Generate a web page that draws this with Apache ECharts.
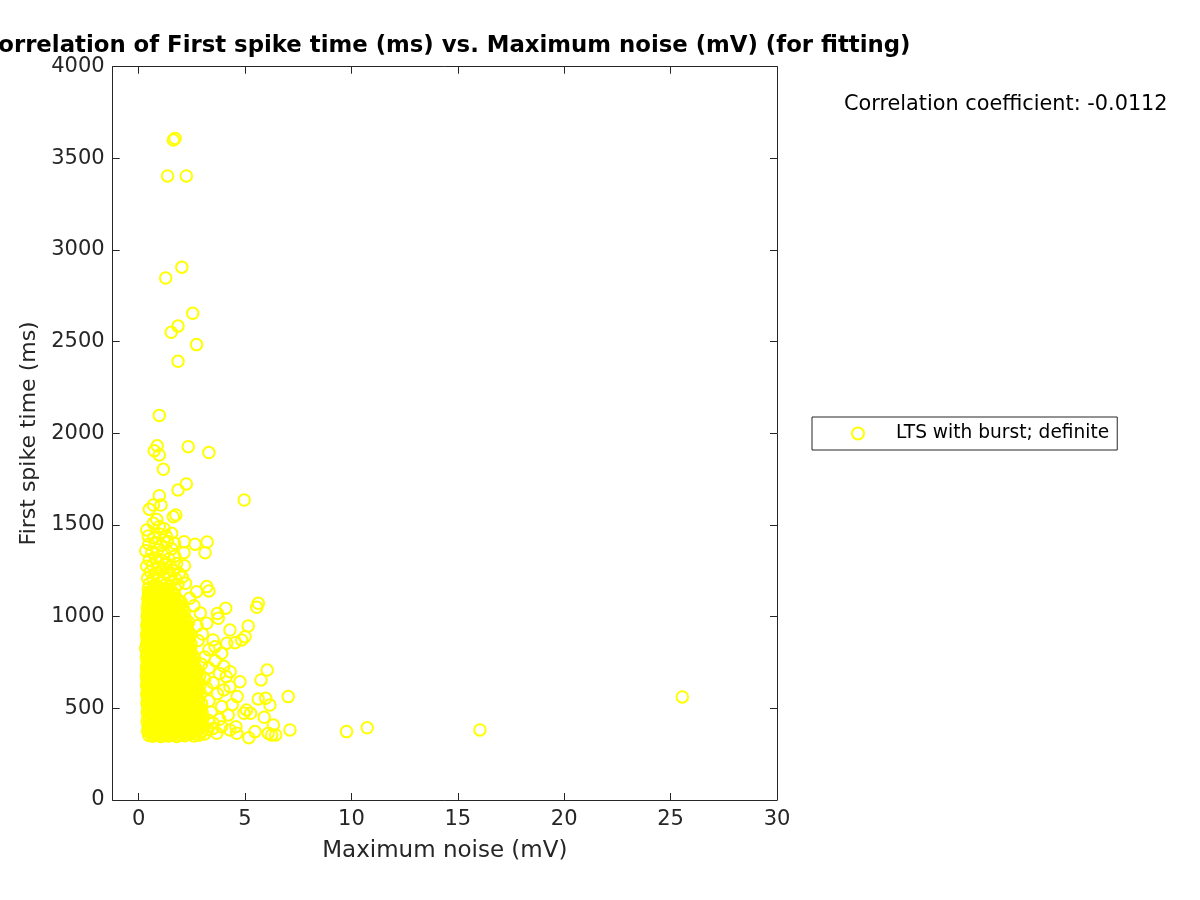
<!DOCTYPE html>
<html>
<head>
<meta charset="utf-8">
<script src="https://cdn.jsdelivr.net/npm/echarts@6/dist/echarts.min.js"></script>
<style>html,body{margin:0;padding:0;background:#fff}#c{width:1200px;height:900px}</style>
</head>
<body>
<div id="c"></div>
<script>
// ---- data: [Maximum noise (mV), First spike time (ms)] ----
const xTicks = [0, 5, 10, 15, 20, 25, 30];
const yTicks = [0, 500, 1000, 1500, 2000, 2500, 3000, 3500, 4000];
const seriesName = 'LTS with burst; definite';
const corrText = 'Correlation coefficient: -0.0112';

const outliers = [[1.71,3609],[1.63,3600],[1.36,3404],[2.24,3404],[2.03,2906],[1.27,2847],[2.54,2655],
  [1.85,2585],[1.53,2551],[2.72,2484],[1.85,2393],[0.97,2098],[0.87,1932],[0.73,1905],[0.97,1882],
  [2.33,1927],[3.30,1895],[1.16,1804],[2.24,1724],[1.85,1691],[4.96,1636],
  [9.77,373],[10.74,394],[16.04,382],[25.55,562]];

const upperCloud = [[0.5,1180],[0.75,1172],[1.0,1185],[1.3,1178],[1.55,1190],[1.85,1175],[2.2,1182],
  [0.42,1210],[0.68,1205],[0.92,1220],[1.18,1212],[1.45,1225],[1.72,1208],[2.05,1215],
  [0.55,1245],[0.82,1238],[1.08,1255],[1.35,1242],[1.62,1250],[1.9,1235],
  [0.38,1275],[0.65,1280],[0.95,1270],[1.25,1285],[1.52,1272],[1.78,1290],[2.15,1278],
  [0.5,1310],[0.8,1320],[1.1,1305],[1.42,1315],[1.7,1330],
  [0.33,1360],[0.62,1352],[0.9,1365],[1.2,1348],[1.55,1370],[2.13,1349],[3.12,1349],
  [0.48,1395],[0.78,1405],[1.05,1390],[1.35,1410],[1.68,1400],[2.14,1409],[2.65,1395],[3.22,1407],
  [0.45,1440],[0.72,1430],[1.0,1450],[1.3,1438],[1.55,1455],
  [0.38,1473],[0.69,1509],[0.97,1491],[1.2,1480],[0.85,1530],[1.63,1545],[1.75,1555],
  [0.5,1586],[0.69,1609],[1.05,1609],[0.97,1660]];

const core350 = [
  [0.48,352],[0.66,348],[0.85,355],[1.04,346],[1.22,351],[1.41,349],[1.6,356],[1.79,347],[1.98,353],[2.17,350],[2.38,357],[2.6,349],[2.83,354],[3.1,360],
  [0.42,377],[0.6,372],[0.79,380],[0.97,374],[1.16,378],[1.35,371],[1.54,381],[1.73,375],[1.92,379],[2.12,372],[2.31,383],[2.52,376],[2.74,380],[2.96,373],[3.25,385],
  [0.45,402],[0.63,398],[0.82,405],[1.01,397],[1.2,403],[1.39,400],[1.58,407],[1.77,396],[1.96,404],[2.15,399],[2.36,406],[2.57,401],[2.8,397],[3.05,404],
  [0.4,427],[0.59,423],[0.77,430],[0.96,421],[1.15,428],[1.33,425],[1.52,431],[1.71,422],[1.9,429],[2.1,424],[2.3,432],[2.51,426],[2.72,421],[2.95,429],[3.3,433],
  [0.44,452],[0.62,447],[0.81,455],[1.0,449],[1.19,454],[1.37,446],[1.56,453],[1.75,450],[1.94,457],[2.13,448],[2.33,455],[2.55,451],[2.78,446],[3.02,454],
  [0.41,477],[0.6,473],[0.78,480],[0.97,471],[1.16,478],[1.34,474],[1.53,481],[1.72,472],[1.91,479],[2.11,476],[2.31,470],[2.52,478],[2.74,474],[2.98,480],
  [0.43,502],[0.61,498],[0.8,505],[0.99,496],[1.18,503],[1.36,499],[1.55,506],[1.74,497],[1.93,504],[2.13,500],[2.34,507],[2.56,498],[2.8,503],
  [0.39,527],[0.58,522],[0.76,529],[0.95,521],[1.14,528],[1.32,524],[1.51,530],[1.7,523],[1.89,527],[2.08,521],[2.28,529],[2.49,525],[2.72,520],[2.95,528],
  [0.42,552],[0.6,547],[0.79,555],[0.98,546],[1.17,553],[1.35,549],[1.54,556],[1.73,548],[1.92,554],[2.11,550],[2.31,546],[2.53,553],[2.77,549],
  [0.38,577],[0.57,572],[0.75,580],[0.94,571],[1.13,578],[1.31,574],[1.5,581],[1.69,573],[1.88,579],[2.07,575],[2.27,570],[2.48,578],[2.7,574],[2.92,580]];

const core600 = [
  [0.41,602],[0.59,598],[0.78,605],[0.97,596],[1.16,603],[1.34,599],[1.53,606],[1.72,597],[1.91,604],[2.1,600],[2.3,607],[2.52,598],[2.76,603],
  [0.37,627],[0.56,622],[0.74,630],[0.93,621],[1.12,628],[1.3,624],[1.49,631],[1.68,622],[1.87,629],[2.06,625],[2.26,620],[2.47,628],[2.7,623],[2.9,630],
  [0.4,652],[0.58,647],[0.77,655],[0.96,646],[1.15,653],[1.33,649],[1.52,656],[1.71,648],[1.9,654],[2.09,650],[2.29,645],[2.5,653],[2.73,648],
  [0.36,677],[0.55,672],[0.73,680],[0.92,671],[1.11,678],[1.29,674],[1.48,681],[1.67,672],[1.86,679],[2.05,675],[2.25,670],[2.46,678],[2.68,673],[2.88,680],
  [0.39,702],[0.57,698],[0.76,705],[0.95,696],[1.14,703],[1.32,699],[1.51,706],[1.7,697],[1.89,704],[2.08,700],[2.28,695],[2.49,703],[2.7,698],
  [0.37,727],[0.55,722],[0.74,730],[0.93,721],[1.12,728],[1.3,724],[1.49,731],[1.68,722],[1.87,729],[2.06,725],[2.26,720],[2.47,728],[2.66,723],
  [0.4,752],[0.58,748],[0.77,755],[0.96,746],[1.15,753],[1.33,749],[1.52,756],[1.71,747],[1.9,754],[2.09,750],[2.29,745],[2.5,753],
  [0.36,777],[0.55,772],[0.73,780],[0.92,771],[1.11,778],[1.29,774],[1.48,781],[1.67,772],[1.86,779],[2.05,775],[2.25,770],[2.46,778],[2.64,772],
  [0.39,802],[0.57,798],[0.76,805],[0.95,796],[1.14,803],[1.32,799],[1.51,806],[1.7,797],[1.89,804],[2.08,800],[2.28,795],[2.47,803],
  [0.33,827],[0.54,822],[0.72,830],[0.91,821],[1.1,828],[1.28,824],[1.47,831],[1.66,822],[1.85,829],[2.04,825],[2.24,820],[2.44,828],
  [0.38,852],[0.56,848],[0.75,855],[0.94,846],[1.13,853],[1.31,849],[1.5,856],[1.69,847],[1.88,854],[2.07,850],[2.27,845],[2.46,852],
  [0.4,877],[0.58,872],[0.76,880],[0.95,871],[1.14,878],[1.32,874],[1.51,881],[1.7,872],[1.89,879],[2.08,875],[2.3,870]];

const core900 = [
  [0.37,902],[0.56,898],[0.74,905],[0.93,896],[1.12,903],[1.3,899],[1.49,906],[1.68,897],[1.87,904],[2.06,900],[2.27,895],[2.45,903],
  [0.41,927],[0.59,922],[0.77,930],[0.96,921],[1.15,928],[1.33,924],[1.52,931],[1.71,922],[1.9,929],[2.1,925],[2.3,920],
  [0.38,952],[0.57,948],[0.75,955],[0.94,946],[1.13,953],[1.31,949],[1.5,956],[1.69,947],[1.88,954],[2.07,950],[2.28,945],
  [0.42,977],[0.6,972],[0.78,980],[0.97,971],[1.16,978],[1.34,974],[1.53,981],[1.72,972],[1.91,979],[2.12,975],[2.35,970],
  [0.4,1002],[0.58,998],[0.77,1005],[0.96,996],[1.15,1003],[1.33,999],[1.52,1006],[1.71,997],[1.9,1004],[2.1,1000],
  [0.43,1027],[0.61,1022],[0.8,1030],[0.99,1021],[1.18,1028],[1.36,1024],[1.55,1031],[1.74,1022],[1.93,1029],[2.15,1025],
  [0.41,1052],[0.6,1048],[0.78,1055],[0.97,1046],[1.16,1053],[1.34,1049],[1.53,1056],[1.72,1047],[1.95,1054],
  [0.45,1077],[0.63,1072],[0.82,1080],[1.0,1071],[1.19,1078],[1.37,1074],[1.56,1081],[1.77,1072],[2.0,1079],
  [0.43,1102],[0.62,1098],[0.8,1105],[0.99,1096],[1.18,1103],[1.36,1099],[1.55,1106],[1.8,1097],
  [0.47,1127],[0.65,1122],[0.84,1130],[1.03,1121],[1.22,1128],[1.4,1124],[1.62,1131],
  [0.45,1152],[0.64,1148],[0.83,1155],[1.02,1146],[1.21,1153],[1.42,1149],[1.7,1156]];

const coreLow2 = [
  [0.55,364],[0.74,360],[0.93,366],[1.12,359],[1.31,365],[1.5,361],[1.69,367],[1.88,360],[2.07,364],[2.27,361],[2.48,366],[2.7,362],[2.93,367],
  [0.51,389],[0.7,385],[0.88,391],[1.07,384],[1.26,390],[1.45,386],[1.64,392],[1.83,385],[2.02,389],[2.22,386],[2.42,391],[2.63,387],[2.86,392],
  [0.53,414],[0.72,410],[0.91,416],[1.1,409],[1.29,415],[1.48,411],[1.67,417],[1.86,410],[2.05,414],[2.25,411],[2.46,416],[2.68,412],[2.9,417],
  [0.5,439],[0.68,435],[0.87,441],[1.06,434],[1.25,440],[1.44,436],[1.63,442],[1.82,435],[2.01,439],[2.21,436],[2.42,441],[2.63,437],[2.85,442],
  [0.53,464],[0.71,460],[0.9,466],[1.09,459],[1.28,465],[1.47,461],[1.66,467],[1.85,460],[2.04,464],[2.23,461],[2.44,466],[2.65,462],[2.86,467],
  [0.5,489],[0.69,485],[0.88,491],[1.07,484],[1.26,490],[1.45,486],[1.64,492],[1.83,485],[2.02,489],[2.22,486],[2.42,491],[2.62,487],[2.82,492],
  [0.52,514],[0.7,510],[0.89,516],[1.08,509],[1.27,515],[1.46,511],[1.65,517],[1.84,510],[2.03,514],[2.23,511],[2.44,516],[2.68,512],
  [0.48,539],[0.67,535],[0.86,541],[1.05,534],[1.24,540],[1.43,536],[1.62,542],[1.81,535],[2.0,539],[2.19,536],[2.39,541],[2.6,537],[2.82,542],
  [0.51,564],[0.69,560],[0.88,566],[1.07,559],[1.26,565],[1.45,561],[1.64,567],[1.83,560],[2.02,564],[2.21,561],[2.42,566],[2.65,562],
  [0.47,589],[0.66,585],[0.85,591],[1.04,584],[1.23,590],[1.42,586],[1.61,592],[1.8,585],[1.99,589],[2.18,586],[2.38,591],[2.59,587],[2.8,592]];

const coreMid2 = [
  [0.5,614],[0.69,610],[0.88,616],[1.07,609],[1.26,615],[1.45,611],[1.64,617],[1.83,610],[2.02,614],[2.21,611],[2.41,616],[2.64,612],
  [0.46,639],[0.65,635],[0.84,641],[1.03,634],[1.22,640],[1.41,636],[1.6,642],[1.79,635],[1.98,639],[2.17,636],[2.37,641],[2.58,637],[2.8,642],
  [0.49,664],[0.68,660],[0.87,666],[1.06,659],[1.25,665],[1.44,661],[1.63,667],[1.82,660],[2.01,664],[2.2,661],[2.4,666],[2.61,662],
  [0.45,689],[0.64,685],[0.83,691],[1.02,684],[1.21,690],[1.4,686],[1.59,692],[1.78,685],[1.97,689],[2.16,686],[2.36,691],[2.56,687],[2.76,692],
  [0.48,714],[0.67,710],[0.86,716],[1.05,709],[1.24,715],[1.43,711],[1.62,717],[1.81,710],[2.0,714],[2.19,711],[2.39,716],[2.6,712],
  [0.46,739],[0.65,735],[0.84,741],[1.03,734],[1.22,740],[1.41,736],[1.6,742],[1.79,735],[1.98,739],[2.17,736],[2.37,741],[2.56,737],
  [0.49,764],[0.68,760],[0.87,766],[1.06,759],[1.25,765],[1.44,761],[1.63,767],[1.82,760],[2.01,764],[2.2,761],[2.4,766],
  [0.45,789],[0.64,785],[0.83,791],[1.02,784],[1.21,790],[1.4,786],[1.59,792],[1.78,785],[1.97,789],[2.16,786],[2.36,791],[2.56,787],
  [0.48,814],[0.67,810],[0.86,816],[1.05,809],[1.24,815],[1.43,811],[1.62,817],[1.81,810],[2.0,814],[2.19,811],[2.37,816],
  [0.44,839],[0.63,835],[0.82,841],[1.01,834],[1.2,840],[1.39,836],[1.58,842],[1.77,835],[1.96,839],[2.15,836],[2.35,841],
  [0.47,864],[0.66,860],[0.85,866],[1.04,859],[1.23,865],[1.42,861],[1.61,867],[1.8,860],[1.99,864],[2.18,861],[2.36,866]];

const coreHigh2 = [
  [0.49,889],[0.68,885],[0.87,891],[1.06,884],[1.25,890],[1.44,886],[1.63,892],[1.82,885],[2.01,889],[2.2,886],
  [0.46,914],[0.65,910],[0.84,916],[1.03,909],[1.22,915],[1.41,911],[1.6,917],[1.79,910],[1.98,914],[2.17,911],[2.36,916],
  [0.5,939],[0.69,935],[0.88,941],[1.07,934],[1.26,940],[1.45,936],[1.64,942],[1.83,935],[2.02,939],[2.21,936],
  [0.47,964],[0.66,960],[0.85,966],[1.04,959],[1.23,965],[1.42,961],[1.61,967],[1.8,960],[1.99,964],[2.2,961],
  [0.51,989],[0.7,985],[0.89,991],[1.08,984],[1.27,990],[1.46,986],[1.65,992],[1.84,985],[2.03,989],[2.22,986],
  [0.49,1014],[0.68,1010],[0.87,1016],[1.06,1009],[1.25,1015],[1.44,1011],[1.63,1017],[1.82,1010],[2.01,1014],
  [0.52,1039],[0.71,1035],[0.9,1041],[1.09,1034],[1.28,1040],[1.47,1036],[1.66,1042],[1.85,1035],[2.05,1039],
  [0.5,1064],[0.69,1060],[0.88,1066],[1.07,1059],[1.26,1065],[1.45,1061],[1.64,1067],[1.86,1060],
  [0.54,1089],[0.73,1085],[0.92,1091],[1.11,1084],[1.3,1090],[1.49,1086],[1.68,1092],[1.9,1085],
  [0.52,1114],[0.71,1110],[0.9,1116],[1.09,1109],[1.28,1115],[1.47,1111],[1.7,1117],
  [0.56,1139],[0.75,1135],[0.94,1141],[1.13,1134],[1.32,1140],[1.55,1136]];

const fringe = [[3.3,1140],[3.2,1164],[2.72,1136],[2.4,1100],[2.6,1060],[2.9,1020],[3.2,964],[3.7,1018],
  [3.74,991],[4.09,1046],[5.62,1073],[5.55,1051],[5.15,949],[4.29,927],[5.0,891],[4.84,873],[4.53,858],
  [4.14,855],[3.5,873],[3.59,836],[2.75,950],[3.0,905],[2.8,870],[3.3,820],[3.9,800],[3.1,780],[3.6,760],
  [4.0,730],[4.3,700],[3.3,720],[2.95,740],[3.8,690],[6.04,709],[5.75,655],[4.76,645],[4.29,618],[4.63,564],
  [4.12,673],[7.03,564],[5.62,551],[5.97,555],[6.17,518],[5.07,491],[5.26,473],[5.9,451],[4.95,473],
  [7.11,382],[6.33,409],[6.25,355],[6.44,355],[6.09,364],[5.47,373],[5.18,340],[4.61,364],[4.29,382],
  [4.57,400],[4.21,464],[3.67,364],[3.5,420],[3.8,440],[3.4,480],[3.9,510],[3.3,540],[3.7,580],[3.2,610],
  [3.5,640],[3.1,660],[4.0,600],[4.4,520],[3.9,400],[3.5,390]];

const points = [].concat(core350, coreLow2, core600, coreMid2, core900, coreHigh2, upperCloud, fringe, outliers);

const AX = '#262626';
const FONT = 'DejaVu Sans';
const chart = echarts.init(document.getElementById('c'), null, {renderer: 'canvas'});
const xMin = -1.22, xMax = 30;
chart.setOption({
  animation: false,
  backgroundColor: '#fff',
  textStyle: {fontFamily: FONT},
  title: [
    {text: 'Correlation of First spike time (ms) vs. Maximum noise (mV) (for fitting)',
     left: 446, top: 35, padding: 0, textAlign: 'center',
     textStyle: {fontFamily: FONT, fontSize: 22.8, fontWeight: 'bold', color: '#000'}},
    {text: corrText, left: 844, top: 94, padding: 0,
     textStyle: {fontFamily: FONT, fontSize: 20.8, fontWeight: 'normal', color: '#000'}}
  ],
  legend: {
    left: 812, top: 417, orient: 'vertical', padding: [7, 8, 7, 39],
    itemWidth: 66, itemHeight: 12, borderColor: AX, borderWidth: 1,
    textStyle: {fontFamily: FONT, fontSize: 18.6, color: '#000'},
    data: [seriesName]
  },
  grid: {left: 112.7, top: 66.7, width: 664.3, height: 733.3, containLabel: false},
  xAxis: [{
    type: 'value', min: xMin, max: xMax, position: 'bottom',
    name: 'Maximum noise (mV)', nameLocation: 'middle', nameGap: 40,
    nameTextStyle: {fontFamily: FONT, fontSize: 23, color: AX},
    axisLine: {show: true, onZero: false, lineStyle: {color: AX, width: 1}},
    axisTick: {show: true, inside: true, length: 7, customValues: xTicks, lineStyle: {color: AX}},
    axisLabel: {customValues: xTicks, margin: 9, fontFamily: FONT, fontSize: 21, color: AX,
      formatter: v => String(v)},
    splitLine: {show: false}
  }, {
    type: 'value', min: xMin, max: xMax, position: 'top',
    axisLine: {show: true, onZero: false, lineStyle: {color: AX, width: 1}},
    axisTick: {show: true, inside: true, length: 7, customValues: xTicks, lineStyle: {color: AX}},
    axisLabel: {show: false}, splitLine: {show: false}
  }],
  yAxis: [{
    type: 'value', min: 0, max: 4000, interval: 500, position: 'left',
    name: 'First spike time (ms)', nameLocation: 'middle', nameGap: 69,
    nameTextStyle: {fontFamily: FONT, fontSize: 22, color: AX},
    axisLine: {show: true, onZero: false, lineStyle: {color: AX, width: 1}},
    axisTick: {show: true, inside: true, length: 7, lineStyle: {color: AX}},
    axisLabel: {margin: 8, fontFamily: FONT, fontSize: 21, color: AX, formatter: v => String(v)},
    splitLine: {show: false}
  }, {
    type: 'value', min: 0, max: 4000, interval: 500, position: 'right',
    axisLine: {show: true, onZero: false, lineStyle: {color: AX, width: 1}},
    axisTick: {show: true, inside: true, length: 7, lineStyle: {color: AX}},
    axisLabel: {show: false}, splitLine: {show: false}
  }],
  series: [{
    name: seriesName, type: 'scatter', xAxisIndex: 0, yAxisIndex: 0,
    symbol: 'circle', symbolSize: 11.5,
    itemStyle: {color: 'rgba(255,255,0,0)', borderColor: '#ffff00', borderWidth: 2, opacity: 1},
    emphasis: {disabled: true},
    data: points
  }]
});
</script>
</body>
</html>
